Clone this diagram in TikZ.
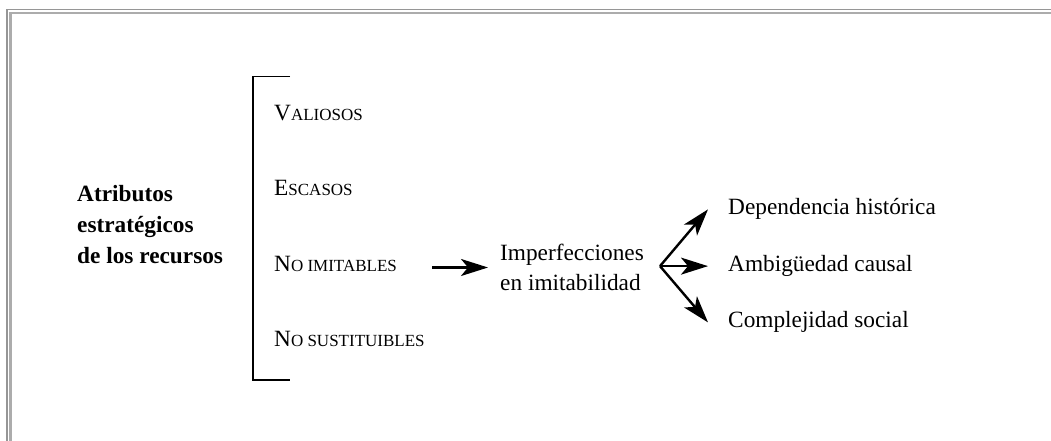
\documentclass[tikz,border=0pt]{standalone}
\usepackage{fontspec}
\setmainfont{Liberation Serif}
\usetikzlibrary{arrows.meta}
\definecolor{framedark}{RGB}{150,150,150}
\definecolor{framelight}{RGB}{172,172,172}
% fake small capitals: the rest of the word in smaller upper case
\newcommand\smcap[1]{{\fontsize{17}{17}\selectfont #1}}
\begin{document}
\begin{tikzpicture}[x=1pt,y=1pt,
  txt/.style={inner sep=0pt, font=\fontsize{23.3}{30}\selectfont},
  item/.style={txt, anchor=base west},
  head/.style={inner sep=0pt, anchor=west, align=left,
               font=\fontsize{23.3}{31}\selectfont\bfseries},
  arr/.style={line width=2.4pt, -{Stealth[length=27pt,width=17pt,inset=7pt]}},
  bracket/.style={line width=1.4pt}]
\useasboundingbox (0,0) rectangle (1051,441);
\fill[white] (0,0) rectangle (1051,441);
% double frame line along top and left edges
\draw[framedark, line width=1.2pt] (7,0) -- (7,431.5) -- (1051,431.5);
\draw[framelight, line width=2.8pt] (10.5,0) -- (10.5,428) -- (1051,428);

% heading
\node[head] (attr) at (77,216) {Atributos\\estratégicos\\de los recursos};

% attribute list with its bracket
\draw[bracket] (290,364.3) -- (253,364.3) -- (253,61) -- (290,61);
\node[item] (val) at (274,320) {V\smcap{ALIOSOS}};
\node[item] (esc) at (274,245) {E\smcap{SCASOS}};
\node[item] (ni)  at (274,169) {N\smcap{O IMITABLES}};
\node[item] (ns)  at (274,94)  {N\smcap{O SUSTITUIBLES}};

% imperfections and their sources
\node[txt, anchor=west, align=left] (imp) at (500,173.5) {Imperfecciones\\en imitabilidad};
\node[item] (dep) at (728,226)   {Dependencia histórica};
\node[item] (amb) at (728,169.3) {Ambigüedad causal};
\node[item] (com) at (728,113)   {Complejidad social};

\coordinate (fork) at ([xshift=16pt]imp.east |- amb.west);

\draw[arr] ([xshift=35pt]ni.east |- imp.west) -- ([xshift=-12pt]imp.west);
\draw[arr] (fork) -- ([xshift=-20pt]dep.west);
\draw[arr] (fork) -- ([xshift=-20pt]amb.west);
\draw[arr] (fork) -- ([xshift=-20pt]com.west);
\end{tikzpicture}
\end{document}
